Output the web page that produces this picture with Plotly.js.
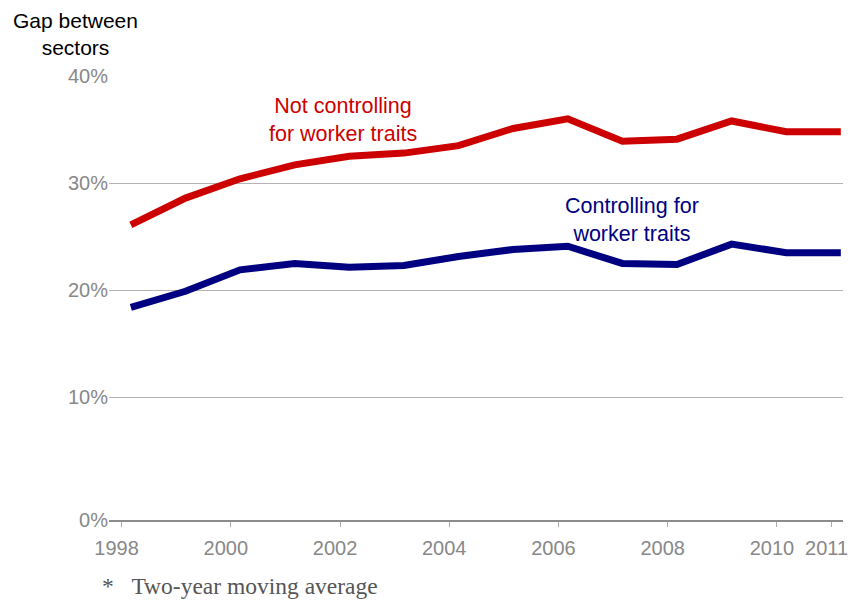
<!DOCTYPE html>
<html>
<head>
<meta charset="utf-8">
<script src="https://cdn.plot.ly/plotly-3.0.1.min.js"></script>
<style>
html,body{margin:0;padding:0;background:#fff;}
#chart{width:850px;height:600px;}
</style>
</head>
<body>
<div id="chart"></div>
<script>
// Data (two-year moving averages, gap between sectors in %)
const xPoints = [1998.17, 1999.17, 2000.17, 2001.17, 2002.17, 2003.17, 2004.17, 2005.17, 2006.17, 2007.17, 2008.17, 2009.17, 2010.17, 2011.17];
const notControlling = [26.1, 28.6, 30.4, 31.7, 32.5, 32.8, 33.5, 35.1, 36.0, 33.9, 34.1, 35.8, 34.8, 34.8];
const controlling = [18.4, 19.9, 21.9, 22.5, 22.15, 22.3, 23.15, 23.8, 24.1, 22.5, 22.4, 24.3, 23.5, 23.5];
const xTickVals = [1998, 2000, 2002, 2004, 2006, 2008, 2010, 2011];
const xTickText = ['1998', '2000', '2002', '2004', '2006', '2008', '2010', '2011'];
const yTickVals = [-1.46, 10, 20, 30, 40];
const yTickText = ['0%', '10%', '20%', '30%', '40%'];

const sans = 'Liberation Sans, Arial, sans-serif';
const traces = [
  {x: xPoints, y: notControlling, type: 'scatter', mode: 'lines', name: 'Not controlling for worker traits',
   line: {color: '#CC0000', width: 7}, hoverinfo: 'x+y'},
  {x: xPoints, y: controlling, type: 'scatter', mode: 'lines', name: 'Controlling for worker traits',
   line: {color: '#000080', width: 7}, hoverinfo: 'x+y'}
];

const layout = {
  width: 850, height: 600,
  margin: {l: 109, r: 7, t: 76, b: 80},
  paper_bgcolor: '#ffffff', plot_bgcolor: '#ffffff',
  showlegend: false,
  font: {family: sans, color: '#888888', size: 20},
  xaxis: {
    range: [1997.77, 2011.21],
    tickvals: xTickVals, ticktext: xTickText,
    showgrid: false, zeroline: false,
    showline: true, linecolor: '#8c8c8c', linewidth: 1.5,
    ticks: 'outside', ticklen: 5, tickcolor: '#aaaaaa', tickwidth: 1,
    ticklabelshift: -5, ticklabelstandoff: 4, ticklabeloverflow: 'allow',
    tickfont: {family: sans, size: 20, color: '#888888'},
    fixedrange: true
  },
  yaxis: {
    range: [-1.46, 40],
    tickvals: yTickVals, ticktext: yTickText,
    showgrid: true, gridcolor: '#b3b3b3', gridwidth: 1,
    zeroline: false, showline: false,
    ticks: '',
    tickfont: {family: sans, size: 20, color: '#888888'},
    fixedrange: true
  },
  annotations: [
    {xref: 'paper', yref: 'paper', x: -0.045, y: 1.0935, xanchor: 'center', yanchor: 'middle',
     text: 'Gap between<br>sectors', showarrow: false, align: 'center',
     font: {family: sans, size: 21, color: '#000000'}},
    {xref: 'x', yref: 'y', x: 2002.06, y: 35.87, xanchor: 'center', yanchor: 'middle',
     text: 'Not controlling<br>for worker traits', showarrow: false, align: 'center',
     font: {family: sans, size: 21.5, color: '#CC0000'}},
    {xref: 'x', yref: 'y', x: 2007.35, y: 26.57, xanchor: 'center', yanchor: 'middle',
     text: 'Controlling for<br>worker traits', showarrow: false, align: 'center',
     font: {family: sans, size: 21.5, color: '#000080'}},
    {xref: 'paper', yref: 'paper', x: -0.012, y: -0.149, xanchor: 'left', yanchor: 'middle',
     text: '*&nbsp;&nbsp;&nbsp;Two-year moving average', showarrow: false, align: 'left',
     font: {family: 'Liberation Serif, Times New Roman, serif', size: 23.5, color: '#555555'}}
  ]
};

Plotly.newPlot('chart', traces, layout, {displayModeBar: false, staticPlot: true});
</script>
</body>
</html>
